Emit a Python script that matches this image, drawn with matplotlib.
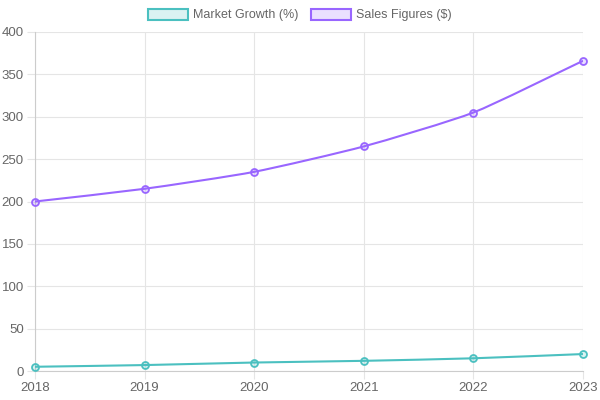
import numpy as np
import matplotlib.pyplot as plt
from matplotlib.path import Path
from matplotlib.patches import PathPatch, Patch

years = ['2018', '2019', '2020', '2021', '2022', '2023']
market_growth = [5, 7, 10, 12, 15, 20]
sales_figures = [200, 215, 235, 265, 305, 366]

teal = '#4bc0c0'
purple = '#9966ff'
tick_color = '#666666'
grid_color = '#e5e5e5'

plt.rcParams['font.family'] = ['Liberation Sans', 'DejaVu Sans']

fig = plt.figure(figsize=(6, 4), dpi=100)
ax = fig.add_axes([35 / 600, 29 / 400, 548 / 600, 339 / 400])
x = np.arange(len(years))
ax.set_xlim(0, len(years) - 1)
ax.set_ylim(0, 400)


def smooth_path(xs, ys, tension=0.2):
    # chart.js style bezier, computed in pixel space
    pts = ax.transData.transform(np.column_stack([xs, ys]))
    n = len(pts)
    verts = [pts[0]]
    codes = [Path.MOVETO]
    ctrl = []
    for i in range(n):
        prev = pts[max(i - 1, 0)]
        cur = pts[i]
        nxt = pts[min(i + 1, n - 1)]
        d01 = np.hypot(*(cur - prev))
        d12 = np.hypot(*(nxt - cur))
        tot = d01 + d12
        s01 = d01 / tot if tot else 0
        s12 = d12 / tot if tot else 0
        ctrl.append((cur - tension * s01 * (nxt - prev),
                     cur + tension * s12 * (nxt - prev)))
    for i in range(1, n):
        verts += [ctrl[i - 1][1], ctrl[i][0], pts[i]]
        codes += [Path.CURVE4] * 3
    return Path(np.array(verts), codes)


for vals, col in [(market_growth, teal), (sales_figures, purple)]:
    path = smooth_path(x, vals)
    ax.add_patch(PathPatch(path, transform=None, fill=False, edgecolor=col,
                           lw=1.5, zorder=3))
    ax.plot(x, vals, 'o', ms=5, mfc=col + '33', mec=col, mew=1.3, zorder=4,
            clip_on=False)

ax.set_xticks(x)
ax.set_xticklabels(years)
ax.set_yticks(range(0, 401, 50))
ax.grid(True, color=grid_color, lw=0.8)
ax.set_axisbelow(True)
for s in ['top', 'right']:
    ax.spines[s].set_visible(False)
for s in ['left', 'bottom']:
    ax.spines[s].set_color('#cccccc')
    ax.spines[s].set_linewidth(0.8)
ax.tick_params(colors=tick_color, labelsize=9.5, length=6, width=0.8,
               pad=2)
ax.tick_params(axis='both', color=grid_color)

handles = [Patch(facecolor=teal + '33', edgecolor=teal, lw=1.5, label='Market Growth (%)'),
           Patch(facecolor=purple + '33', edgecolor=purple, lw=1.5, label='Sales Figures ($)')]
fig.legend(handles=handles, loc='center', bbox_to_anchor=(0.5, 1 - 15 / 400), ncol=2,
           frameon=False, fontsize=9, handlelength=3.2, handleheight=1.0,
           handletextpad=0.4, columnspacing=1.0, labelcolor=tick_color)

fig.savefig('out.png', dpi=100)
